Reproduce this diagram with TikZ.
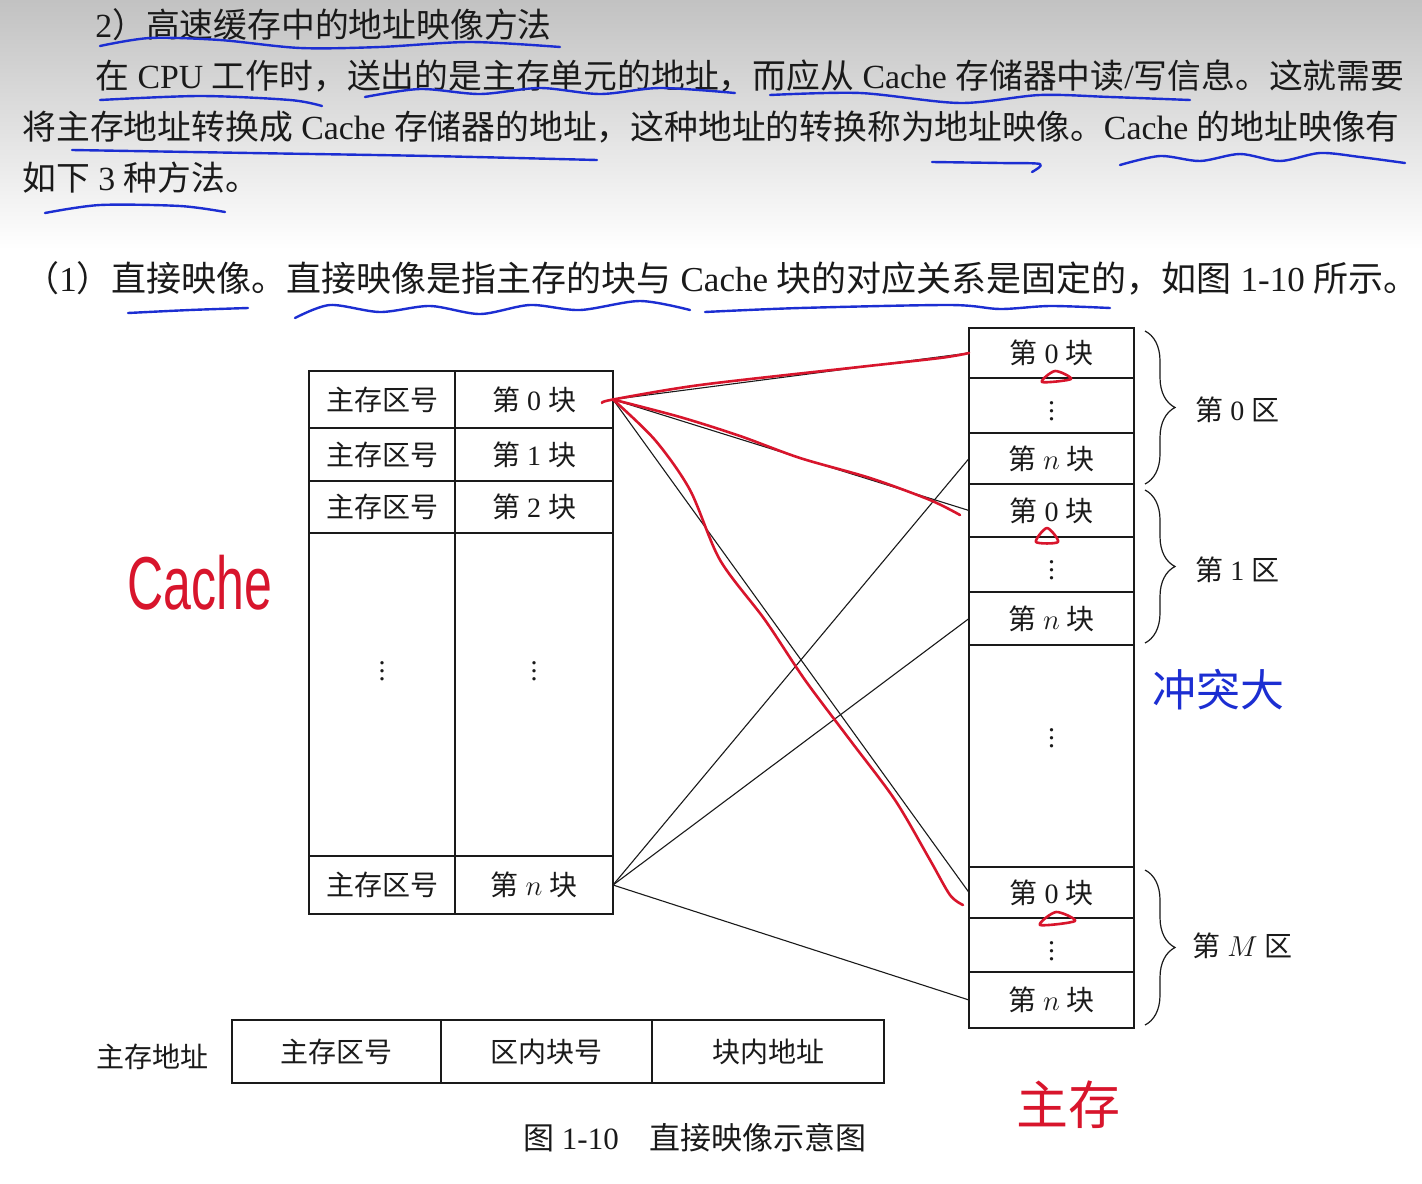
\documentclass[tikz,border=0pt]{standalone}
\usepackage{fontspec}
\setmainfont{Liberation Serif}
\newfontfamily\cjk{Noto Sans CJK SC}
\newfontfamily\handfont{Liberation Sans}
\usetikzlibrary{positioning,decorations.pathreplacing}
\definecolor{ink}{HTML}{1A1A1A}
\definecolor{pen}{HTML}{D8152C}
\definecolor{blueink}{HTML}{1C2ED2}
\newcommand{\zh}[1]{{\cjk #1}}
\newcommand{\blkno}[1]{\zh{第} #1 \zh{块}}

\begin{document}
\begin{tikzpicture}[x=0.5pt, y=-0.5pt,
  cell/.style={draw=ink, line width=0.75pt, inner sep=0pt, outer sep=0pt,
    text=ink, font=\fontsize{14pt}{16pt}\selectfont},
  para/.style={anchor=west, inner sep=0pt, text=ink, font=\fontsize{16.9pt}{18pt}\selectfont},
  note/.style={inner sep=0pt, text=ink, font=\fontsize{14pt}{16pt}\selectfont},
  link/.style={draw=ink, line width=0.55pt},
  redpen/.style={draw=pen, line width=1.3pt, line cap=round, line join=round},
  bluepen/.style={draw=blueink, line width=1.2pt, line cap=round, line join=round},
  zone/.style={decorate, decoration={brace, amplitude=15pt}, draw=ink, line width=0.6pt}]
  \useasboundingbox (0,0) rectangle (1422,1183);
  \fill[white] (0,0) rectangle (1422,1183);
  \shade[top color=gray!48, bottom color=white] (0,0) rectangle (1422,250);

  \node[para] (t1) at (95,25) {2\zh{）高速缓存中的地址映像方法}};
  \node[para] (t2) at (95,76) {\zh{在} CPU \zh{工作时，送出的是主存单元的地址，而应从} Cache \zh{存储器中读}/\zh{写信息。这就需要}};
  \node[para] (t3) at (22,127) {\zh{将主存地址转换成} Cache \zh{存储器的地址，这种地址的转换称为地址映像。}Cache \zh{的地址映像有}};
  \node[para] (t4) at (22,178) {\zh{如下} 3 \zh{种方法。}};
  \node[para, font=\fontsize{17.5pt}{19pt}\selectfont] (t5) at (24,278) {\zh{（}1\zh{）直接映像。直接映像是指主存的块与} Cache \zh{块的对应关系是固定的，如图} 1-10 \zh{所示。}};

  \node[cell, minimum width=73pt, minimum height=28.5pt] (mz0) at (382,399.5) {\zh{主存区号}};
  \node[cell, minimum width=79pt, minimum height=28.5pt] (mb0) at (534,399.5) {\blkno{0}};
  \node[cell, minimum width=73pt, minimum height=26.5pt, below=0pt of mz0] (mz1) {\zh{主存区号}};
  \node[cell, minimum width=79pt, minimum height=26.5pt, below=0pt of mb0] (mb1) {\blkno{1}};
  \node[cell, minimum width=73pt, minimum height=26pt, below=0pt of mz1] (mz2) {\zh{主存区号}};
  \node[cell, minimum width=79pt, minimum height=26pt, below=0pt of mb1] (mb2) {\blkno{2}};
  \node[cell, minimum width=73pt, minimum height=161.5pt, below=0pt of mz2] (mzd) {\raisebox{29pt}{$\vdots$}};
  \node[cell, minimum width=79pt, minimum height=161.5pt, below=0pt of mb2] (mbd) {\raisebox{29pt}{$\vdots$}};
  \node[cell, minimum width=73pt, minimum height=29pt, below=0pt of mzd] (mzn) {\zh{主存区号}};
  \node[cell, minimum width=79pt, minimum height=29pt, below=0pt of mbd] (mbn) {\blkno{$n$}};

  \node[cell, minimum width=82.5pt, minimum height=25pt] (c00) at (1051.5,353) {\blkno{0}};
  \node[cell, minimum width=82.5pt, minimum height=27.5pt, below=0pt of c00] (c0d) {$\vdots$};
  \node[cell, minimum width=82.5pt, minimum height=25.5pt, below=0pt of c0d] (c0n) {\blkno{$n$}};
  \node[cell, minimum width=82.5pt, minimum height=26.5pt, below=0pt of c0n] (c10) {\blkno{0}};
  \node[cell, minimum width=82.5pt, minimum height=27.5pt, below=0pt of c10] (c1d) {$\vdots$};
  \node[cell, minimum width=82.5pt, minimum height=26.5pt, below=0pt of c1d] (c1n) {\blkno{$n$}};
  \node[cell, minimum width=82.5pt, minimum height=111pt, below=0pt of c1n] (cdd) {\raisebox{24pt}{$\vdots$}};
  \node[cell, minimum width=82.5pt, minimum height=25.5pt, below=0pt of cdd] (cM0) {\blkno{0}};
  \node[cell, minimum width=82.5pt, minimum height=27pt, below=0pt of cM0] (cMd) {$\vdots$};
  \node[cell, minimum width=82.5pt, minimum height=28pt, below=0pt of cMd] (cMn) {\blkno{$n$}};

  \draw[zone] (1145,331) -- (1145,484);
  \draw[zone] (1145,490) -- (1145,643);
  \draw[zone] (1145,870) -- (1145,1025);
  \node[note, anchor=west] (z0) at (1195,410) {\zh{第} 0 \zh{区}};
  \node[note, anchor=west] (z1) at (1195,570) {\zh{第} 1 \zh{区}};
  \node[note, anchor=west] (zM) at (1192,946) {\zh{第} $M$ \zh{区}};

  \draw[link] (mb0.east) -- (c00.west);
  \draw[link] (mb0.east) -- (c10.west);
  \draw[link] (mb0.east) -- (cM0.west);
  \draw[link] (mbn.east) -- (c0n.west);
  \draw[link] (mbn.east) -- (c1n.west);
  \draw[link] (mbn.east) -- (cMn.west);

  \node[cell, minimum width=104.5pt, minimum height=31.5pt] (a1) at (336.5,1051.5) {\zh{主存区号}};
  \node[cell, minimum width=105.5pt, minimum height=31.5pt, right=0pt of a1] (a2) {\zh{区内块号}};
  \node[cell, minimum width=116pt, minimum height=31.5pt, right=0pt of a2] (a3) {\zh{块内地址}};
  \node[note] (addr) at (152,1057) {\zh{主存地址}};
  \node[note, font=\fontsize{15.5pt}{17pt}\selectfont] (cap) at (695,1138) {\zh{图} 1-10\quad\zh{直接映像示意图}};

  \draw[bluepen] plot[smooth] coordinates {(100,46) (150,38) (220,40) (300,48) (380,47) (470,42) (560,47)};
  \draw[bluepen] plot[smooth] coordinates {(100,100) (200,96) (290,100) (322,106)};
  \draw[bluepen] plot[smooth] coordinates {(365,97) (420,89) (480,94) (540,88) (600,94) (660,88) (735,93)};
  \draw[bluepen] plot[smooth] coordinates {(770,95) (860,93) (960,103) (1040,95) (1110,97) (1190,100)};
  \draw[bluepen] plot[smooth] coordinates {(72,150) (250,153) (430,156) (597,160)};
  \draw[bluepen] plot[smooth] coordinates {(932,162) (1000,163) (1040,164) (1032,172)};
  \draw[bluepen] plot[smooth] coordinates {(1120,165) (1160,156) (1200,161) (1240,154) (1280,161) (1320,153) (1360,157) (1405,163)};
  \draw[bluepen] plot[smooth] coordinates {(45,213) (100,205) (180,206) (225,212)};
  \draw[bluepen] plot[smooth] coordinates {(128,313) (190,310) (248,308)};
  \draw[bluepen] plot[smooth] coordinates {(295,318) (330,305) (380,312) (430,306) (480,314) (530,305) (580,310) (640,301) (690,310)};
  \draw[bluepen] plot[smooth] coordinates {(705,312) (800,308) (950,305) (1000,309) (1050,306) (1110,308)};

  \draw[redpen] plot[smooth] coordinates {(602,403) (mb0.east) (700,385) (850,368) (940,358) (c00.west)};
  \draw[redpen] plot[smooth] coordinates {(mb0.east) (680,417) (740,436) (800,458) (870,478) (930,500) (960,515)};
  \draw[redpen] plot[smooth] coordinates {(mb0.east) (655,440) (690,490) (720,560) (765,620) (805,680) (850,740) (895,800) (930,860) (950,895) (963,905)};
  \draw[redpen] plot[smooth cycle] coordinates {(1042,382) (1055,371) (1071,379)};
  \draw[redpen] plot[smooth cycle] coordinates {(1036,542) (1047,528) (1058,542)};
  \draw[redpen] plot[smooth cycle] coordinates {(1040,925) (1056,912) (1075,921)};

  \node[text=pen, font=\handfont\fontsize{25pt}{28pt}\selectfont] (hcache) at (200,583) {\scalebox{1}[1.5]{Cache}};
  \node[text=blueink, font=\cjk\fontsize{22pt}{24pt}\selectfont] (hconf) at (1218,690) {冲突大};
  \node[text=pen, font=\cjk\fontsize{26pt}{28pt}\selectfont] (hmain) at (1068,1105) {主存};
\end{tikzpicture}
\end{document}
